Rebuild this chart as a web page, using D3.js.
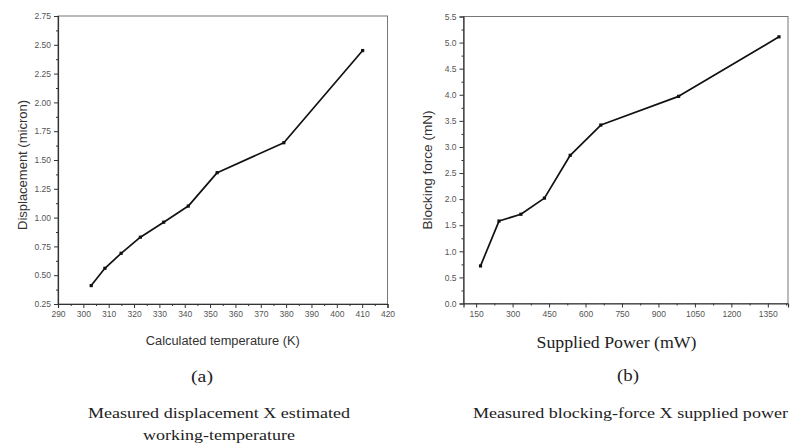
<!DOCTYPE html>
<html><head><meta charset="utf-8">
<script src="https://cdn.jsdelivr.net/npm/d3@7"></script>
<style>
html,body{margin:0;padding:0;background:#fff;}
svg{display:block;}
</style></head>
<body>
<svg id="c" width="791" height="446"></svg>
<script>
// ---- data (a) ----
const tempK = [303.1, 308.5, 314.9, 322.5, 331.7, 341.4, 352.8, 379.1, 410.2];
const displacement = [0.41, 0.56, 0.69, 0.83, 0.96, 1.10, 1.39, 1.65, 2.45];
const tempTicks = [290,300,310,320,330,340,350,360,370,380,390,400,410,420];
const dispTicks = [0.25,0.50,0.75,1.00,1.25,1.50,1.75,2.00,2.25,2.50,2.75];
// ---- data (b) ----
const powerMW = [168, 244, 334, 431, 537, 663, 983, 1396];
const force = [0.72, 1.58, 1.71, 2.02, 2.84, 3.42, 3.97, 5.11];
const powerTicks = [150,300,450,600,750,900,1050,1200,1350];
const forceTicks = [0.0,0.5,1.0,1.5,2.0,2.5,3.0,3.5,4.0,4.5,5.0,5.5];
// ---- texts ----
const xTitleA = "Calculated temperature (K)";
const yTitleA = "Displacement (micron)";
const xTitleB = "Supplied Power (mW)";
const yTitleB = "Blocking force (mN)";
const captionA = ["Measured displacement X estimated", "working-temperature"];
const captionB = ["Measured blocking-force X supplied power"];

const svg = d3.select("#c");
const sans = "Arial, 'Liberation Sans', sans-serif";
const serif = "'Times New Roman', 'Liberation Serif', serif";

function panel(cfg){
  const {xd, yd, xr, yr, xs, ys, xTicks, yTicks, xMinor, yMinor, xfmt, yfmt} = cfg;
  const x = d3.scaleLinear().domain(xd).range(xr);
  const y = d3.scaleLinear().domain(yd).range(yr);
  const g = svg.append("g");
  g.append("rect").attr("x", xr[0]).attr("y", yr[1])
    .attr("width", xr[1]-xr[0]).attr("height", yr[0]-yr[1])
    .attr("fill","none").attr("stroke","#777").attr("stroke-width",1);
  const xa = g.append("g").attr("transform",`translate(0,${yr[0]})`)
    .call(d3.axisBottom(x).tickValues(xTicks).tickFormat(xfmt).tickSize(4).tickPadding(3));
  xa.select(".domain").attr("stroke","#333").attr("stroke-width",1.2);
  xa.selectAll(".tick line").attr("stroke","#333");
  xa.selectAll("text").attr("font-family",sans).attr("font-size",8.5).attr("fill","#555");
  const xm = g.append("g").attr("transform",`translate(0,${yr[0]})`)
    .call(d3.axisBottom(x).tickValues(xMinor).tickFormat("").tickSize(2));
  xm.select(".domain").remove();
  xm.selectAll(".tick line").attr("stroke","#333");
  const ya = g.append("g").attr("transform",`translate(${xr[0]},0)`)
    .call(d3.axisLeft(y).tickValues(yTicks).tickFormat(yfmt).tickSize(4).tickPadding(3));
  ya.select(".domain").attr("stroke","#333").attr("stroke-width",1.2);
  ya.selectAll(".tick line").attr("stroke","#333");
  ya.selectAll("text").attr("font-family",sans).attr("font-size",8.5).attr("fill","#555");
  const ym = g.append("g").attr("transform",`translate(${xr[0]},0)`)
    .call(d3.axisLeft(y).tickValues(yMinor).tickFormat("").tickSize(2));
  ym.select(".domain").remove();
  ym.selectAll(".tick line").attr("stroke","#333");
  const pts = xs.map((v,i)=>[v, ys[i]]);
  g.append("path").datum(pts)
    .attr("d", d3.line().x(d=>x(d[0])).y(d=>y(d[1])))
    .attr("fill","none").attr("stroke","#111").attr("stroke-width",1.7)
    .attr("stroke-linejoin","round");
  g.selectAll("rect.pt").data(pts).join("rect").attr("class","pt")
    .attr("x", d=>x(d[0])-1.6).attr("y", d=>y(d[1])-1.6)
    .attr("width",3.2).attr("height",3.2).attr("fill","#111");
  return {x,y};
}

const minorOf = (ticks) => {
  const out = [];
  for (let i=0;i<ticks.length-1;i++) out.push((ticks[i]+ticks[i+1])/2);
  return out;
};

panel({xd:[290,420], yd:[0.25,2.75], xr:[58,387.5], yr:[304,16],
  xs:tempK, ys:displacement, xTicks:tempTicks, yTicks:dispTicks,
  xMinor:minorOf(tempTicks), yMinor:minorOf(dispTicks),
  xfmt:d3.format("d"), yfmt:d3.format(".2f")});

const pwrMinor = minorOf(powerTicks).concat([1425]);
panel({xd:[98,1433], yd:[0,5.5], xr:[463.5,788], yr:[303.5,16.5],
  xs:powerMW, ys:force, xTicks:powerTicks, yTicks:forceTicks,
  xMinor:pwrMinor, yMinor:minorOf(forceTicks),
  xfmt:d3.format("d"), yfmt:d3.format(".1f")});

function txt(x, y, s, opts){
  const t = svg.append("text").attr("x",x).attr("y",y).attr("text-anchor","middle")
    .attr("font-family",opts.family).attr("font-size",opts.size).attr("fill",opts.fill).text(s);
  if (opts.len) t.attr("textLength",opts.len).attr("lengthAdjust","spacingAndGlyphs");
  if (opts.rot) t.attr("transform",`rotate(-90,${x},${y})`);
  return t;
}

txt(222.8, 345, xTitleA, {family:sans, size:12.5, fill:"#333", len:154});
txt(27, 165, yTitleA, {family:sans, size:12.5, fill:"#333", rot:true, len:130});
txt(432, 170, yTitleB, {family:sans, size:12.5, fill:"#333", rot:true, len:119});
txt(616.5, 348, xTitleB, {family:serif, size:17, fill:"#222", len:160});

txt(202, 382, "(a)", {family:serif, size:16.5, fill:"#222", len:22});
txt(628, 381, "(b)", {family:serif, size:16.5, fill:"#222", len:22});

captionA.forEach((t,i)=>txt(219, 418+i*22, t,
  {family:serif, size:15.5, fill:"#222", len: i===0 ? 262 : 152}));
captionB.forEach((t,i)=>txt(630.5, 418+i*22, t,
  {family:serif, size:15.5, fill:"#222", len:315}));
</script>
</body></html>
